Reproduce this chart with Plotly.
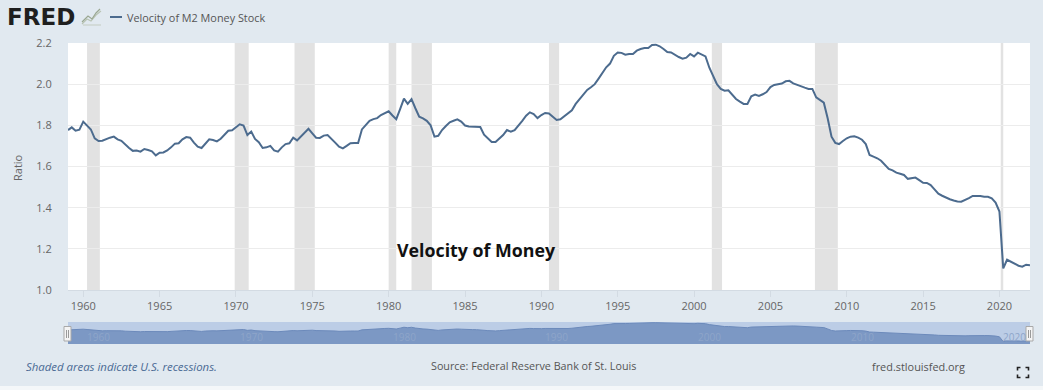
import pandas as pd
import plotly.graph_objects as go

SERIES_NAME = "Velocity of M2 Money Stock"
CHART_NOTE = "Velocity of Money"
START_QUARTER = "1959-01-01"
velocity = [
    1.777, 1.790, 1.774, 1.779,
    1.818, 1.800, 1.780, 1.737,
    1.724, 1.725, 1.733, 1.740,
    1.745, 1.732, 1.725, 1.705,
    1.690, 1.676, 1.678, 1.672,
    1.685, 1.680, 1.674, 1.654,
    1.667, 1.668, 1.678, 1.693,
    1.711, 1.713, 1.732, 1.743,
    1.740, 1.716, 1.696, 1.690,
    1.713, 1.732, 1.729, 1.722,
    1.735, 1.753, 1.774, 1.776,
    1.793, 1.805, 1.799, 1.753,
    1.770, 1.734, 1.718, 1.690,
    1.693, 1.700, 1.678, 1.672,
    1.693, 1.709, 1.713, 1.740,
    1.727, 1.745, 1.764, 1.783,
    1.761, 1.740, 1.739, 1.750,
    1.753, 1.732, 1.716, 1.696,
    1.688, 1.700, 1.713, 1.714,
    1.714, 1.780, 1.800, 1.822,
    1.830, 1.835, 1.850, 1.860,
    1.868, 1.848, 1.830, 1.879,
    1.930, 1.904, 1.927, 1.883,
    1.842, 1.834, 1.822, 1.800,
    1.745, 1.749, 1.777, 1.797,
    1.815, 1.822, 1.829, 1.818,
    1.799, 1.794, 1.794, 1.791,
    1.792, 1.755, 1.737, 1.719,
    1.719, 1.735, 1.753, 1.777,
    1.769, 1.777, 1.797, 1.822,
    1.847, 1.863, 1.855, 1.835,
    1.850, 1.860, 1.858, 1.842,
    1.826, 1.829, 1.844, 1.858,
    1.873, 1.904, 1.928, 1.952,
    1.972, 1.985, 2.000, 2.027,
    2.053, 2.082, 2.100, 2.138,
    2.154, 2.152, 2.143, 2.147,
    2.147, 2.163, 2.171, 2.176,
    2.176, 2.190, 2.192, 2.184,
    2.171, 2.156, 2.154, 2.142,
    2.132, 2.124, 2.129, 2.147,
    2.135, 2.153, 2.143, 2.135,
    2.080, 2.044, 2.000, 1.977,
    1.968, 1.970, 1.950, 1.928,
    1.915, 1.904, 1.904, 1.941,
    1.949, 1.943, 1.951, 1.962,
    1.986, 1.996, 2.000, 2.003,
    2.014, 2.016, 2.004, 1.996,
    1.991, 1.983, 1.977, 1.977,
    1.936, 1.923, 1.910, 1.834,
    1.745, 1.715, 1.709, 1.724,
    1.737, 1.745, 1.747, 1.740,
    1.730, 1.709, 1.656, 1.648,
    1.640, 1.628, 1.609, 1.588,
    1.581, 1.570, 1.565, 1.559,
    1.540, 1.542, 1.546, 1.534,
    1.521, 1.520, 1.510, 1.489,
    1.468, 1.458, 1.448, 1.441,
    1.435, 1.430, 1.429, 1.437,
    1.446, 1.457, 1.458, 1.457,
    1.453, 1.453, 1.445, 1.425,
    1.381, 1.105, 1.147, 1.136,
    1.125, 1.118, 1.113, 1.123,
    1.120,
]
recession_starts = ["1960-04-01", "1969-12-01", "1973-11-01", "1980-01-01", "1981-07-01",
                    "1990-07-01", "2001-03-01", "2007-12-01", "2020-02-01"]
recession_ends = ["1961-02-01", "1970-11-01", "1975-03-01", "1980-07-01", "1982-11-01",
                  "1991-03-01", "2001-11-01", "2009-06-01", "2020-04-01"]
main_ticks = list(range(1960, 2021, 5))
navigator_labels = list(range(1960, 2021, 10))
y_ticks = [1.0, 1.2, 1.4, 1.6, 1.8, 2.0, 2.2]

dates = pd.date_range(START_QUARTER, periods=len(velocity), freq="QS")
X_RANGE = ["1959-01-01", "2022-01-01"]
BG = "#e1e9f0"
W, H = 1043, 390
L, R, T, B = 68, 1030, 43, 344


def px(x):
    return (x - L) / (R - L)


def py(y):
    return (B - y) / (B - T)


fig = go.Figure()
fig.add_trace(go.Scatter(x=dates, y=velocity, mode="lines", name=SERIES_NAME,
                         line=dict(color="#4c6b8e", width=2), xaxis="x", yaxis="y",
                         showlegend=False))
fig.add_trace(go.Scatter(x=dates, y=velocity, mode="lines", fill="tozeroy",
                         fillcolor="#7c98c4", line=dict(color="#6c8abb", width=1),
                         xaxis="x2", yaxis="y2", showlegend=False, hoverinfo="skip"))

shapes = []
for s, e in zip(recession_starts, recession_ends):
    shapes.append(dict(type="rect", xref="x", yref="y domain", x0=s, x1=e, y0=0, y1=1,
                       fillcolor="#e2e2e2", line_width=0, layer="below"))
# navigator backdrop
shapes.append(dict(type="rect", xref="x2 domain", yref="y2 domain", x0=0, x1=1, y0=0, y1=1,
                   fillcolor="#bccde6", line_width=0, layer="below"))
# navigator handles
for hx in (67.5, 1029.5):
    shapes.append(dict(type="rect", xref="paper", yref="paper",
                       x0=px(hx - 3.5), x1=px(hx + 3.5), y0=py(341), y1=py(326.5),
                       fillcolor="#f4f4f4", line=dict(color="#a9a9a9", width=1), layer="above"))
    for d in (-1, 1):
        shapes.append(dict(type="line", xref="paper", yref="paper",
                           x0=px(hx + d), x1=px(hx + d), y0=py(338), y1=py(330),
                           line=dict(color="#9a9a9a", width=1), layer="above"))
# legend key
shapes.append(dict(type="line", xref="paper", yref="paper", x0=px(110), x1=px(122),
                   y0=py(17), y1=py(17), line=dict(color="#4c6b8e", width=2)))
# FRED logo icon
icon_lines = [
    ("#b9c4b4", [(82, 24), (87, 19), (91, 21), (96, 15), (101, 11)]),
    ("#9aa792", [(82, 22), (88, 16), (92, 19), (96, 13), (100, 9)]),
    ("#c8d0c8", [(83, 25), (101, 25)]),
]
for col, pts in icon_lines:
    path = "M" + " L".join(f"{px(a):.5f},{py(b):.5f}" for a, b in pts)
    shapes.append(dict(type="path", xref="paper", yref="paper", path=path,
                       line=dict(color=col, width=1.2)))
# full-screen icon corners
for cx, sx in ((1017.5, 1), (1028.5, -1)):
    for cy, sy in ((367.5, 1), (377.5, -1)):
        shapes.append(dict(type="path", xref="paper", yref="paper",
                           path=f"M{px(cx + 3 * sx):.5f},{py(cy):.5f} L{px(cx):.5f},{py(cy):.5f} "
                                f"L{px(cx):.5f},{py(cy + 3 * sy):.5f}",
                           line=dict(color="#222222", width=1.6)))
# pale strip at the foot of the page
shapes.append(dict(type="rect", xref="paper", yref="paper", x0=px(0), x1=px(W),
                   y0=py(H), y1=py(386), fillcolor="#f4f7f9", line_width=0))

annotations = []


def label(text, x, y, size, color, anchor="left", family="Open Sans", **kw):
    annotations.append(dict(text=text, xref="paper", yref="paper", x=px(x), y=py(y),
                            xanchor=anchor, yanchor="middle", showarrow=False,
                            font=dict(family=family, size=size, color=color), **kw))


label("<b>FRED</b>", 5, 17, 23, "#1f1f1f", family="DejaVu Sans")
label(SERIES_NAME, 125, 17, 10.85, "#555555")
label("<b>" + CHART_NOTE + "</b>", 395, 250, 17.8, "#111111")
label("<i>Shaded areas indicate U.S. recessions.</i>", 24, 366, 11.4, "#4a6a94")
label("Source: Federal Reserve Bank of St. Louis", 429, 366, 10.75, "#555555")
label("fred.stlouisfed.org", 870, 366, 10.9, "#555555")
label("Ratio", 17, 168, 11, "#666666", anchor="center", textangle=-90)
for yr in navigator_labels:
    annotations.append(dict(text=str(yr), xref="x2", yref="y2 domain", x=f"{yr}-01-01", y=0.3,
                            xanchor="left", yanchor="middle", xshift=2, showarrow=False,
                            font=dict(family="Open Sans", size=10, color="#8ea5c9")))

fig.update_layout(
    width=W, height=H, autosize=False,
    margin=dict(l=L, r=W - R, t=T, b=H - B, pad=0),
    paper_bgcolor=BG, plot_bgcolor="#ffffff",
    showlegend=False,
    shapes=shapes, annotations=annotations,
    font=dict(family="Open Sans", size=11, color="#666666"),
    xaxis=dict(domain=[0, 1], anchor="y", range=X_RANGE, type="date",
               tickvals=[f"{y}-01-01" for y in main_ticks], ticktext=[str(y) for y in main_ticks],
               ticks="outside", ticklen=6, tickcolor="#d3dbe3", tickwidth=1,
               showgrid=False, showline=True, linecolor="#d3dbe3", linewidth=1,
               tickfont=dict(size=11, color="#666666"), zeroline=False),
    yaxis=dict(domain=[py(290), 1], anchor="x", range=[1.0, 2.2], tickvals=y_ticks,
               ticktext=[f"{v:.1f}" for v in y_ticks],
               ticks="outside", ticklen=13, tickcolor="rgba(0,0,0,0)",
               showgrid=True, gridcolor="#ececec", gridwidth=1, zeroline=False, showline=False,
               tickfont=dict(size=11, color="#666666")),
    xaxis2=dict(domain=[0, 1], anchor="y2", range=X_RANGE, type="date", visible=False),
    yaxis2=dict(domain=[0, py(322)], anchor="x2", range=[0.97, 2.23], visible=False),
)

fig.write_html("out.html", config=dict(displayModeBar=False),
               post_script="document.body.style.margin='0';document.body.style.overflow='hidden';")
